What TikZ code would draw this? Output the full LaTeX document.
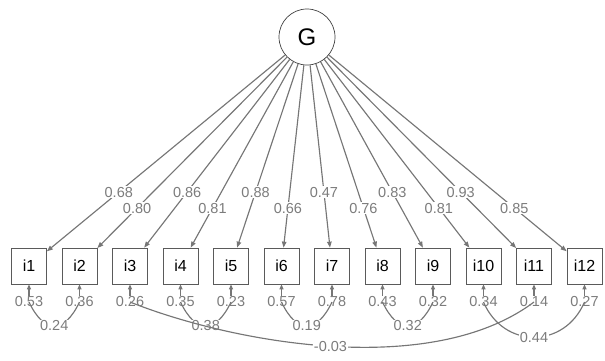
\documentclass[tikz,border=0pt]{standalone}
\usepackage{fontspec}
\setmainfont{Liberation Sans}
\usetikzlibrary{arrows.meta,calc}
\definecolor{lncol}{HTML}{767676}
\definecolor{txcol}{HTML}{7C7C7C}
\definecolor{bxcol}{HTML}{5A5A5A}
\begin{document}
\begin{tikzpicture}[x=1pt,y=-1pt,
  latent/.style={circle,draw=black!75,line width=0.7pt,minimum size=56pt,inner sep=0pt,font=\fontsize{24}{24}\selectfont},
  manifest/.style={rectangle,draw=bxcol,line width=0.7pt,minimum width=35pt,minimum height=36pt,inner sep=0pt,font=\fontsize{16}{16}\selectfont},
  load/.style={draw=lncol,line width=1.15pt,-{Triangle[length=6pt,width=4.5pt]}},
  resid/.style={draw=lncol,line width=1.15pt,-{Triangle[length=5pt,width=4pt]},shorten <=1pt},
  cov/.style={draw=lncol,line width=1.15pt},
  lab/.style={fill=white,text=txcol,inner sep=1pt,font=\fontsize{14.5}{14.5}\selectfont},
  rlab/.style={text=txcol,inner sep=0pt,font=\fontsize{14.5}{14.5}\selectfont}
]
\useasboundingbox (0,0) rectangle (605,361);
\node[latent] (G) at (307,37) {G};
\foreach \k/\x in {1/29,2/79.5,3/130,4/180.5,5/231,6/281.5,7/332,8/382.5,9/433,10/483.5,11/534,12/584.5}{
  \node[manifest] (i\k) at (\x,266) {i\k};
}
% loadings
\foreach \k/\v/\t in {1/0.68/0.677,2/0.80/0.747,3/0.86/0.677,4/0.81/0.747,5/0.88/0.677,6/0.66/0.747,7/0.47/0.677,8/0.76/0.747,9/0.83/0.677,10/0.81/0.747,11/0.93/0.677,12/0.85/0.747}{
  \draw[load] (G) -- (i\k);
  \path (G.center) -- (i\k.center) node[pos=\t,lab] {\v};
}
% residual label positions
\foreach \k/\x in {1/29,2/79.5,3/130,4/180.5,5/231,6/281.5,7/332,8/382.5,9/433,10/483.5,11/534,12/584.5}{
  \coordinate (c\k) at (\x,302);
}
% covariances
\draw[cov] (c1) .. controls +(15,32) and +(-15,32) .. (c2) node[pos=.5,lab] {0.24};
\draw[cov] (c4) .. controls +(15,32) and +(-15,32) .. (c5) node[pos=.5,lab] {0.38};
\draw[cov] (c6) .. controls +(15,32) and +(-15,32) .. (c7) node[pos=.5,lab] {0.19};
\draw[cov] (c8) .. controls +(15,32) and +(-15,32) .. (c9) node[pos=.5,lab] {0.32};
\draw[cov] (c10) .. controls +(20,47) and +(-20,47) .. (c12) node[pos=.5,lab] {0.44};
\draw[cov] (c3) .. controls +(100,40) and +(-104,78) .. (c11) node[pos=.5,lab] {-0.03};
% residuals
\foreach \k/\v in {1/0.53,2/0.36,3/0.26,4/0.35,5/0.23,6/0.57,7/0.78,8/0.43,9/0.32,10/0.34,11/0.14,12/0.27}{
  \node[rlab] (r\k) at (c\k) {\v};
  \draw[resid] (r\k.north) -- (i\k.south);
}
\end{tikzpicture}
\end{document}
